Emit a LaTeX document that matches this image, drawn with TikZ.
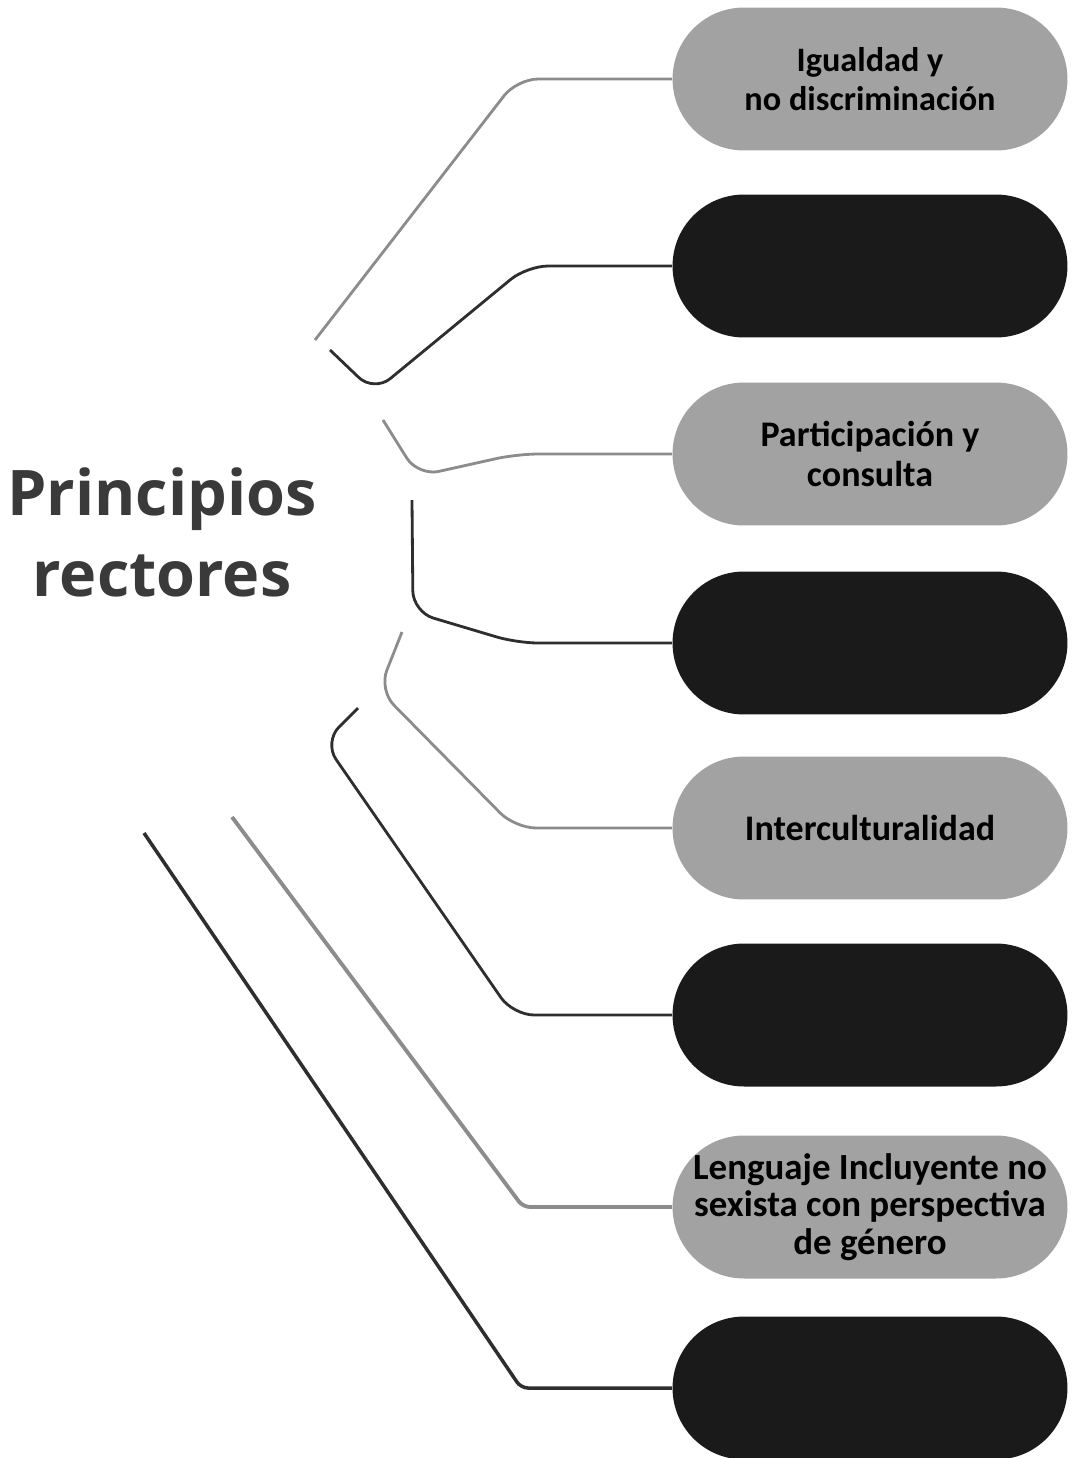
\documentclass[tikz,border=0pt]{standalone}
\usepackage{fontspec}
\newfontfamily\titlefont{Open Sans}
\newfontfamily\pillfont{Carlito}
\usetikzlibrary{shapes.misc}

\definecolor{pilllight}{HTML}{A2A2A2}
\definecolor{pilldark}{HTML}{1A1A1A}
\definecolor{linklight}{HTML}{8C8C8C}
\definecolor{linkdark}{HTML}{2E2E2E}
\definecolor{titlegray}{HTML}{3A3A3A}

\begin{document}
\begin{tikzpicture}[
          x=0.02cm, y=-0.02cm,
          pill/.style={rounded rectangle, minimum width=7.9cm, minimum height=2.86cm,
                       inner sep=0pt, align=center,
                       font=\pillfont\bfseries\fontsize{20.5}{22.5}\selectfont},
          light/.style={pill, fill=pilllight, text=black},
          dark/.style={pill, fill=pilldark},
          lightlink/.style={draw=linklight, line width=1.6pt, rounded corners=12pt},
          darklink/.style={draw=linkdark, line width=1.6pt, rounded corners=12pt},
        ]

        \useasboundingbox (0, 0) rectangle (1073, 1458);

        % title
        \node[font=\titlefont\bfseries\fontsize{35.8}{46}\selectfont, text=titlegray, align=center]
          (titulo) at (162, 532) {Principios\\rectores};

        % pills
        \node[light, font=\pillfont\bfseries\fontsize{19.5}{22.5}\selectfont]
                     (igualdad) at (870, 79)  {Igualdad y\\no discriminación};
        \node[dark]  (p2)       at (870, 266) {};
        \node[light] (particip) at (870, 454) {Participación y\\consulta};
        \node[dark]  (p4)       at (870, 643) {};
        \node[light] (intercul) at (870, 828) {Interculturalidad};
        \node[dark]  (p6)       at (870, 1015) {};
        \node[light] (lenguaje) at (870, 1207) {};
        \node[align=center, inner sep=0pt, font=\pillfont\bfseries\fontsize{21}{21.5}\selectfont]
                     (lenguajetxt) at (lenguaje) {Lenguaje Incluyente no\\sexista con perspectiva\\de género};
        \node[dark]  (p8)       at (870, 1388) {};

        % free ends of the links
        \coordinate (s1) at (315, 340);
        \coordinate (s2) at (330, 350);
        \coordinate (s3) at (383, 420);
        \coordinate (s4) at (412, 500);
        \coordinate (s5) at (402, 632);
        \coordinate (s6) at (358, 708);
        \coordinate (s7) at (232, 817);
        \coordinate (s8) at (144, 833);

        % links
        \draw[lightlink] (s1) -- (517, 79) -- (igualdad.west);
        \draw[darklink]  (s2) -- (374, 392) -- (527, 266) -- (p2.west);
        \draw[lightlink] (s3) -- (418, 476) -- (517, 454) -- (particip.west);
        \draw[darklink]  (s4) -- (413, 612) -- (517, 643) -- (p4.west);
        \draw[lightlink] (s5) -- (379, 690) -- (515, 828) -- (intercul.west);
        \draw[darklink]  (s6) -- (324, 742) -- (513, 1015) -- (p6.west);
        \draw[lightlink, line width=2.2pt, rounded corners=4pt] (s7) -- (523, 1207) -- (lenguaje.west);
        \draw[darklink, line width=2pt, rounded corners=4pt]   (s8) -- (521, 1388) -- (p8.west);

      \end{tikzpicture}
\end{document}
